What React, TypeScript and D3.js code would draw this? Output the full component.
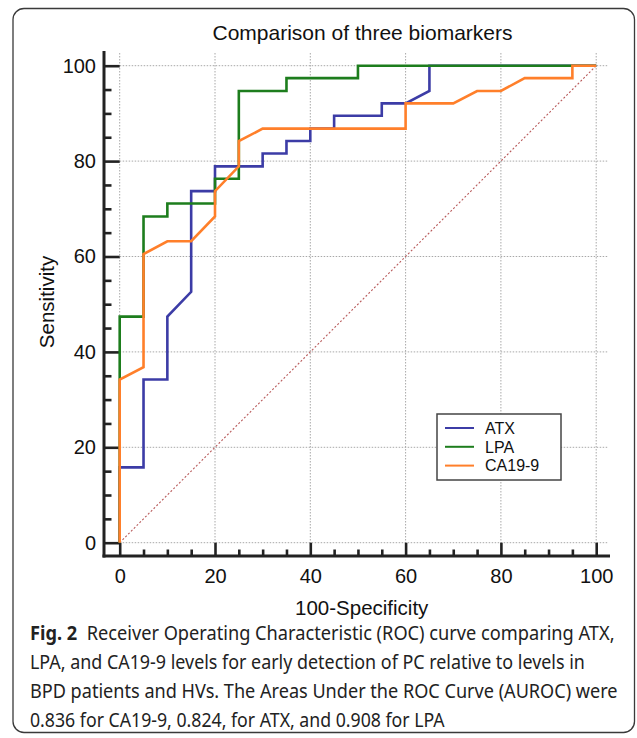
import React, { useEffect, useRef } from 'react';
import * as d3 from 'd3';

const width = 637;
const height = 738;
const font = '"Liberation Sans", Arial, sans-serif';

// ROC points, x = 100-specificity, y = sensitivity (%)
const atxX = [0, 0, 5, 5, 10, 10, 15, 15, 20, 20, 30, 30, 35, 35, 40, 40, 45, 45, 55, 55, 60, 65, 65, 100];
const atxY = [0, 15.8, 15.8, 34.2, 34.2, 47.4, 52.6, 73.7, 73.7, 78.9, 78.9, 81.6, 81.6, 84.2, 84.2, 86.8, 86.8, 89.5, 89.5, 92.1, 92.1, 94.7, 100, 100];

const lpaX = [0, 0, 5, 5, 10, 10, 20, 20, 25, 25, 35, 35, 50, 50, 100];
const lpaY = [0, 47.4, 47.4, 68.4, 68.4, 71.1, 71.1, 76.3, 76.3, 94.7, 94.7, 97.4, 97.4, 100, 100];

const caX = [0, 0, 5, 5, 10, 15, 20, 20, 25, 25, 30, 60, 60, 70, 75, 80, 85, 95, 95, 100];
const caY = [0, 34.2, 36.8, 60.5, 63.2, 63.2, 68.4, 73.7, 78.9, 84.2, 86.8, 86.8, 92.1, 92.1, 94.7, 94.7, 97.4, 97.4, 100, 100];

const seriesNames = ['ATX', 'LPA', 'CA19-9'];
const seriesColors = ['#3c3ca6', '#1d7d1d', '#ff7f2a'];

const majorTicks = [0, 20, 40, 60, 80, 100];
const minorTicks = [5, 10, 15, 25, 30, 35, 45, 50, 55, 65, 70, 75, 85, 90, 95];

const captionLines = [
  ['Fig. 2', '  Receiver Operating Characteristic (ROC) curve comparing ATX,'],
  ['', 'LPA, and CA19-9 levels for early detection of PC relative to levels in'],
  ['', 'BPD patients and HVs. The Areas Under the ROC Curve (AUROC) were'],
  ['', '0.836 for CA19-9, 0.824, for ATX, and 0.908 for LPA'],
];
const captionWidths = [585, 555, 588, 415];

const x = d3.scaleLinear().domain([0, 100]).range([119.7, 596.2]);
const y = d3.scaleLinear().domain([0, 100]).range([542.7, 65.7]);

const App = () => {
  const ref = useRef<SVGSVGElement>(null);

  useEffect(() => {
    const svg = d3.select(ref.current);
    svg.selectAll('*').remove();

    svg.append('rect').attr('x', 13).attr('y', 8.5).attr('width', 621.5).attr('height', 724)
      .attr('rx', 11).attr('fill', '#fff').attr('stroke', '#3a3a3a').attr('stroke-width', 1.3);

    svg.append('text').attr('x', 362.5).attr('y', 40).attr('text-anchor', 'middle')
      .attr('font-family', font).attr('font-size', 21).attr('fill', '#111')
      .text('Comparison of three biomarkers');

    // grid
    const grid = svg.append('g').attr('stroke', '#a8a8a8').attr('stroke-width', 1).attr('stroke-dasharray', '1.5,1.5');
    grid.selectAll('.v').data(majorTicks).join('line')
      .attr('x1', d => x(d)).attr('x2', d => x(d)).attr('y1', 53).attr('y2', y(0));
    grid.selectAll('.h').data(majorTicks).join('line')
      .attr('y1', d => y(d)).attr('y2', d => y(d)).attr('x1', x(0)).attr('x2', 608);

    // diagonal
    svg.append('line').attr('x1', x(0)).attr('y1', y(0)).attr('x2', x(100)).attr('y2', y(100))
      .attr('stroke', '#b85a5a').attr('stroke-width', 1.1).attr('stroke-dasharray', '2,2');

    // axes
    const yMajor = svg.append('g').attr('transform', 'translate(104,0)')
      .call(d3.axisLeft(y).tickValues(majorTicks).tickSizeInner(-15.7).tickSizeOuter(0).tickPadding(8));
    const yMinor = svg.append('g').attr('transform', 'translate(104,0)')
      .call(d3.axisLeft(y).tickValues(minorTicks).tickSizeInner(-7.5).tickSizeOuter(0).tickFormat(() => ''));
    const xMajor = svg.append('g').attr('transform', 'translate(0,556)')
      .call(d3.axisBottom(x).tickValues(majorTicks).tickSizeInner(-13.3).tickSizeOuter(0).tickPadding(12.5));
    const xMinor = svg.append('g').attr('transform', 'translate(0,556)')
      .call(d3.axisBottom(x).tickValues(minorTicks).tickSizeInner(-6.5).tickSizeOuter(0).tickFormat(() => ''));
    [yMajor, yMinor, xMajor, xMinor].forEach(g => {
      g.select('.domain').remove();
      g.selectAll('line').attr('stroke', '#222').attr('stroke-width', 2.6);
      g.selectAll('text').attr('font-family', font).attr('font-size', 20).attr('fill', '#111');
    });
    svg.append('line').attr('x1', 104).attr('x2', 104).attr('y1', 51).attr('y2', 557.5)
      .attr('stroke', '#222').attr('stroke-width', 3);
    svg.append('line').attr('x1', 102.5).attr('x2', 610).attr('y1', 556).attr('y2', 556)
      .attr('stroke', '#222').attr('stroke-width', 3);

    svg.append('text').attr('x', 361.7).attr('y', 614.5).attr('text-anchor', 'middle')
      .attr('font-family', font).attr('font-size', 20.5).attr('fill', '#111').text('100-Specificity');
    svg.append('text').attr('transform', 'translate(53.5,302) rotate(-90)').attr('text-anchor', 'middle')
      .attr('font-family', font).attr('font-size', 20.5).attr('fill', '#111').text('Sensitivity');

    // curves
    const line = d3.line<[number, number]>().x(d => x(d[0])).y(d => y(d[1]));
    const series = [atxX.map((v, i) => [v, atxY[i]]), lpaX.map((v, i) => [v, lpaY[i]]), caX.map((v, i) => [v, caY[i]])];
    series.forEach((pts, i) => {
      svg.append('path').attr('d', line(pts as [number, number][]))
        .attr('fill', 'none').attr('stroke', seriesColors[i]).attr('stroke-width', 2.6)
        .attr('stroke-linejoin', 'miter');
    });

    // legend
    const lg = svg.append('g');
    lg.append('rect').attr('x', 437).attr('y', 414).attr('width', 124).attr('height', 66)
      .attr('fill', '#fff').attr('stroke', '#444').attr('stroke-width', 1.5);
    seriesNames.forEach((n, i) => {
      const ly = 428 + i * 18.8;
      lg.append('line').attr('x1', 445).attr('x2', 474).attr('y1', ly).attr('y2', ly)
        .attr('stroke', seriesColors[i]).attr('stroke-width', 2);
      lg.append('text').attr('x', 485).attr('y', ly).attr('dy', '0.36em')
        .attr('font-family', font).attr('font-size', 16).attr('fill', '#111').text(n);
    });

    // caption: each line squeezed horizontally to the reference width
    const capText = svg.append('g').attr('font-family', '"Noto Sans", "Open Sans", sans-serif')
      .attr('font-size', 20).attr('fill', '#222');
    captionLines.forEach((l, i) => {
      const t = capText.append('text').attr('x', 0).attr('y', 0).attr('xml:space', 'preserve');
      if (l[0]) t.append('tspan').attr('font-weight', 'bold').text(l[0]);
      t.append('tspan').text(l[1]);
      const w = (t.node() as SVGTextElement).getComputedTextLength();
      t.attr('transform', `translate(30,${640 + i * 29}) scale(${captionWidths[i] / w},1)`);
    });
  }, []);

  return (
    <svg ref={ref} width={width} height={height}
      style={{ position: 'absolute', left: 0, top: 0, background: '#fff' }} />
  );
};

export default App;
